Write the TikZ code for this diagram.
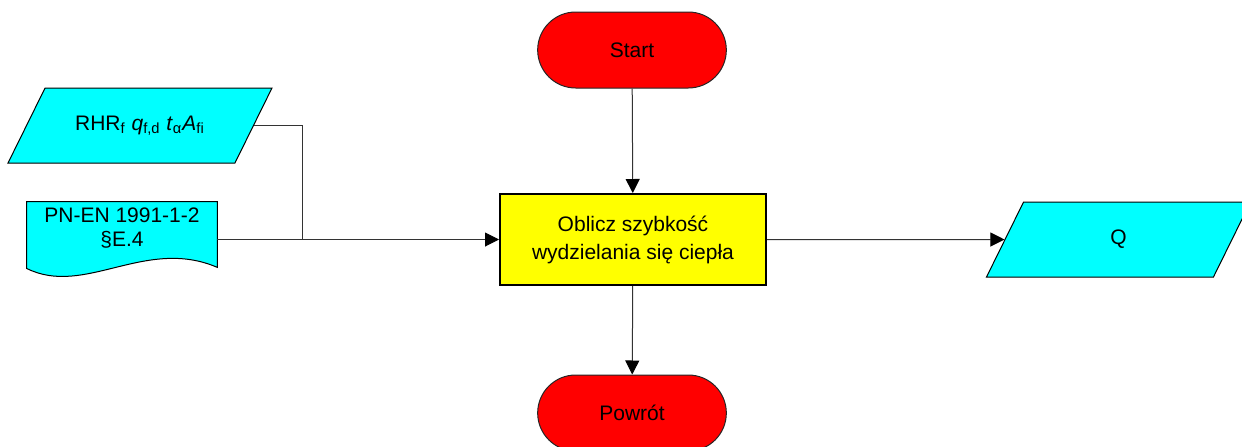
\documentclass[tikz,border=0pt]{standalone}
\usepackage{fontspec}
\setmainfont{Liberation Sans}
\usetikzlibrary{shapes.geometric,shapes.misc,arrows.meta,backgrounds}
\definecolor{flowcyan}{rgb}{0,1,1}
\definecolor{flowred}{rgb}{1,0,0}
\definecolor{flowyellow}{rgb}{1,1,0}

\begin{document}
\begin{tikzpicture}[x=0.5pt, y=-0.5pt,
    term/.style={rounded rectangle, draw=black!85, fill=flowred, line width=0.5pt,
        minimum width=101pt, minimum height=38pt, font=\fontsize{10.5}{12}\selectfont},
    proc/.style={rectangle, draw=black, fill=flowyellow, line width=1pt, align=center,
        minimum width=133pt, minimum height=45.5pt, font=\fontsize{10.5}{14}\selectfont},
    io/.style={trapezium, trapezium left angle=63.7, trapezium right angle=116.3,
        trapezium stretches body=true, draw=black, fill=flowcyan, line width=0.5pt,
        text height=7.5pt, text depth=2.5pt, inner ysep=13.75pt, inner xsep=0pt,
        minimum width=132pt, font=\fontsize{10.5}{12}\selectfont},
    doc/.style={rectangle, inner sep=0pt, align=center, minimum width=95pt,
        minimum height=26pt, font=\fontsize{10.5}{12}\selectfont},
    docshape/.style={fill=flowcyan, draw=black, line width=0.5pt},
    conn/.style={draw=black!80, line width=0.5pt},
    flow/.style={conn, -{Triangle[length=7pt,width=7pt,color=black]}}]
    \clip (0,0) rectangle (1242,446);
    \node[term] (start) at (632,50) {Start};
    \node[proc] (calc) at (633,239.5) {Oblicz szybkość\\wydzielania się ciepła};
    \node[term] (back) at (632,413) {Powrót};
    \node[io] (rhr) at (140,125.5) {RHR\textsubscript{f} \textit{q}\textsubscript{f,d} \textit{t}\textsubscript{α}\textit{A}\textsubscript{fi}};
    \node[doc] (pn) at (122,228) {PN-EN 1991-1-2\\§E.4};
    \node[io] (q) at (1118.5,239.5) {Q};
    \coordinate (join) at (302,239.5);
    % wavy document outline behind its text
    \begin{scope}[on background layer]
        \filldraw[docshape] (pn.north west) -- (pn.north east) -- ([yshift=-6.5pt]pn.south east)
            .. controls +(-72,-31) and +(58,29) .. ([yshift=-7pt]pn.south west) -- cycle;
    \end{scope}
    \draw[flow] (start) -- (calc);
    \draw[flow] (calc) -- (back);
    \draw[conn] (rhr.east) -| (join);
    \draw[flow] (pn.east |- join) -- (calc.west);
    \draw[flow] (calc.east) -- (q.west);
\end{tikzpicture}
\end{document}
